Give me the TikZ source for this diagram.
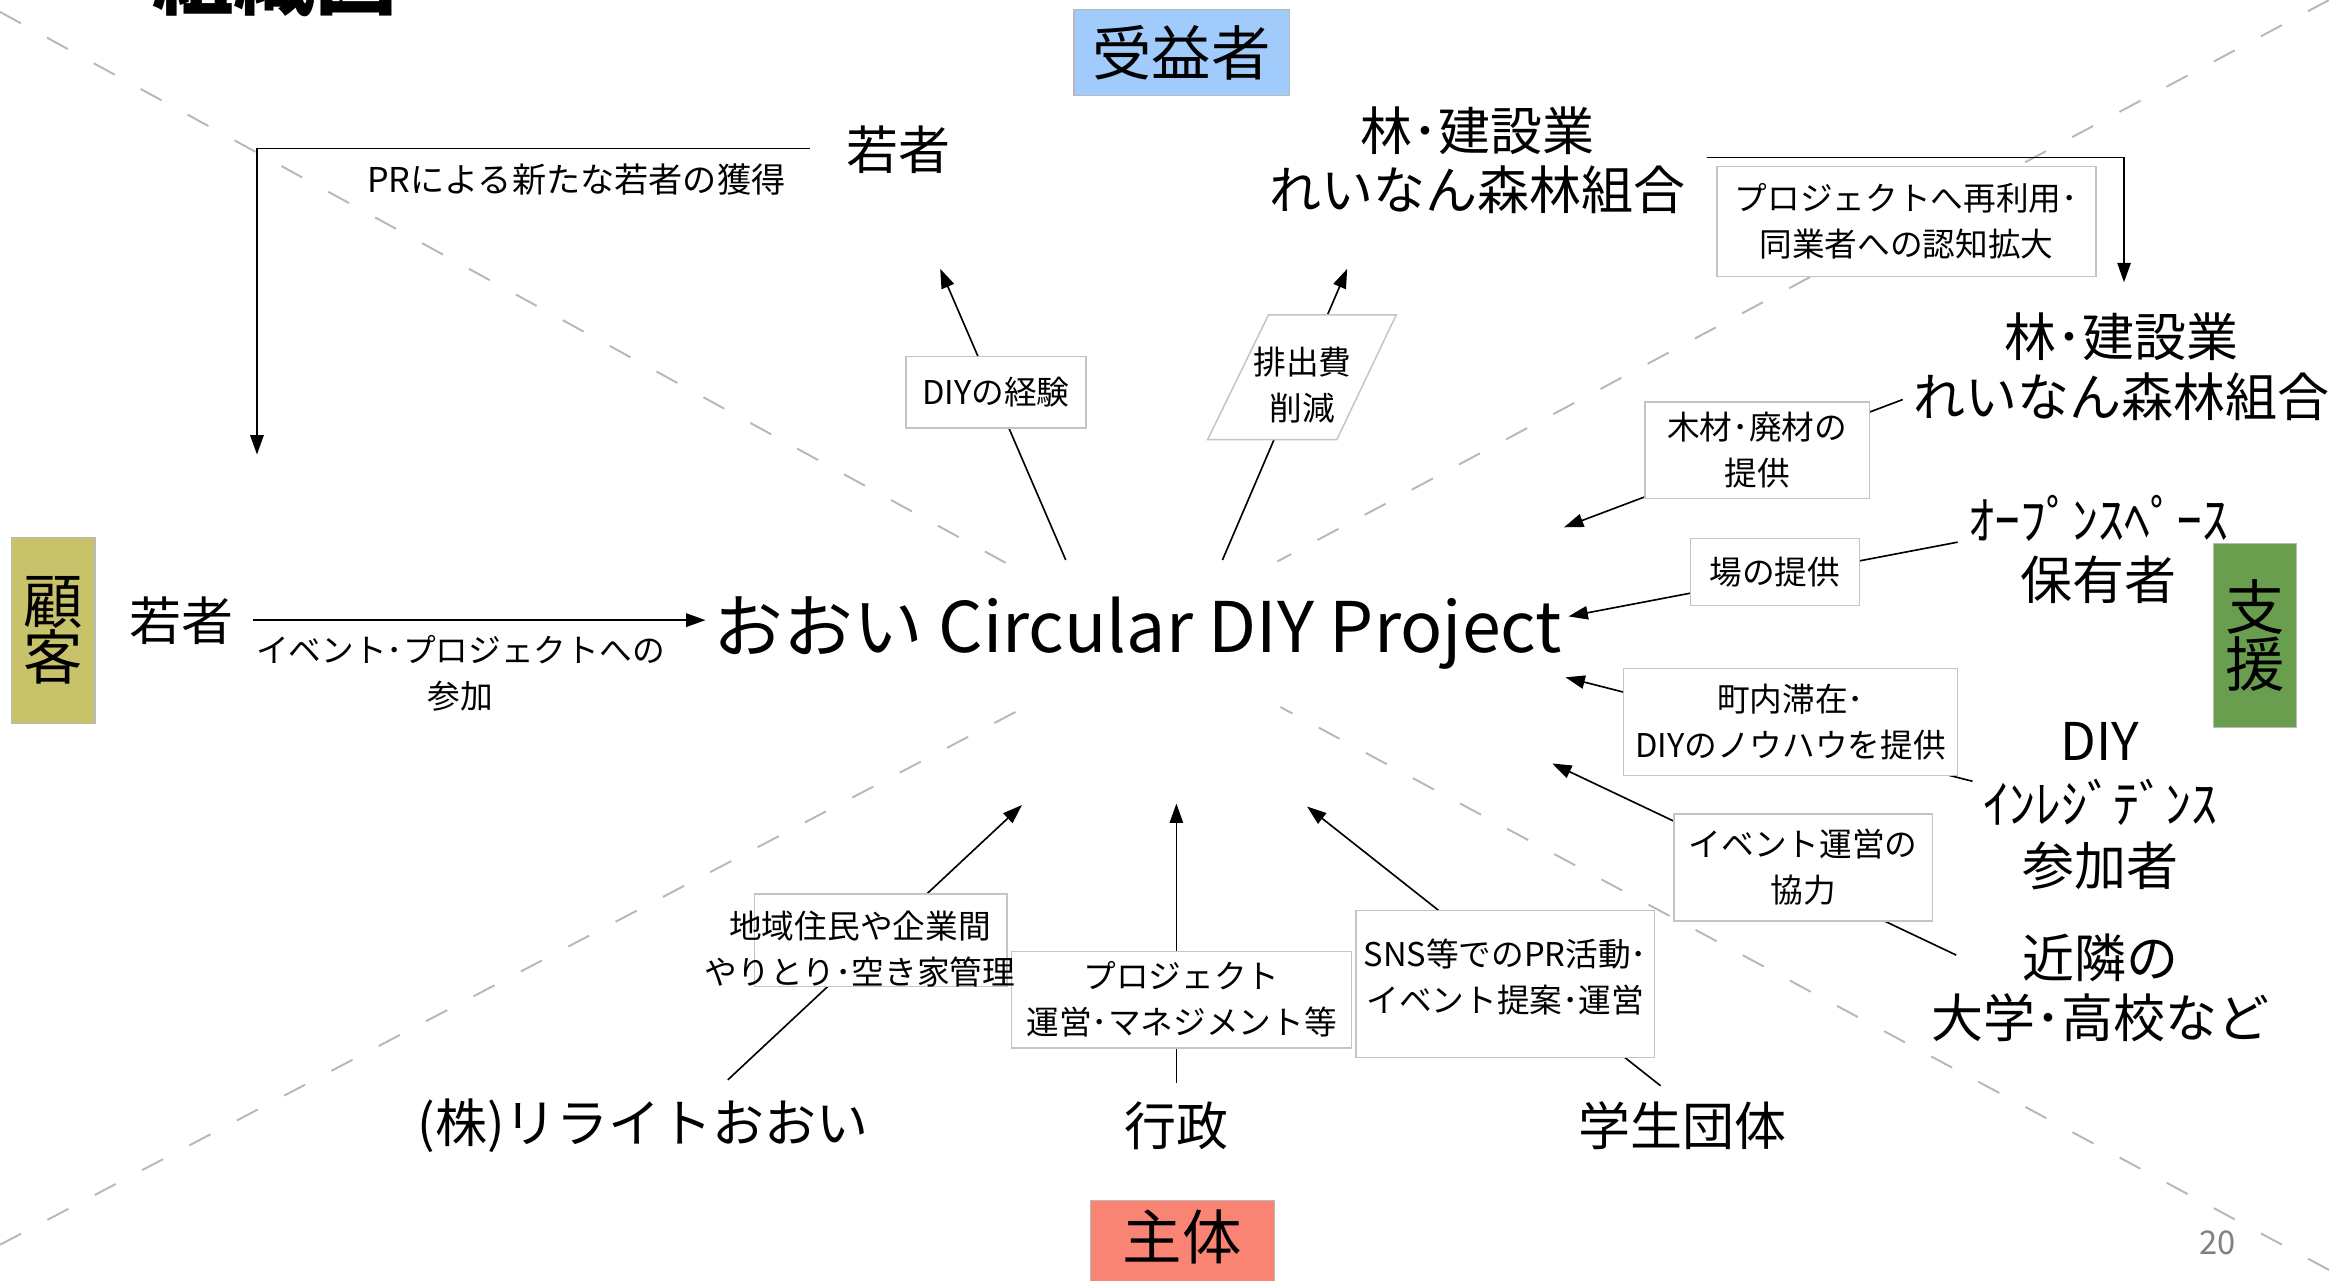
\documentclass[tikz,border=0pt]{standalone}
\usepackage{fontspec}
\setmainfont{Noto Sans CJK JP}
\usetikzlibrary{arrows.meta,backgrounds}
\definecolor{juekic}{HTML}{A0CBFA}
\definecolor{kokyakuc}{HTML}{C8C36A}
\definecolor{shienc}{HTML}{6A9E4F}
\definecolor{shutaic}{HTML}{FA8474}
\definecolor{boxline}{HTML}{C4C4C4}
\definecolor{dashc}{HTML}{B8B8B8}
\newcommand{\fsz}[2]{\fontsize{#1}{#2}\selectfont}
\tikzset{
  big/.style={font=\fsz{35}{40}, align=center, inner sep=0pt},
  small/.style={font=\fsz{22}{31}, align=center, inner sep=0pt},
  lbox/.style={draw=boxline, fill=white, line width=1pt, font=\fsz{22}{31}, align=center, inner sep=0pt},
  corner/.style={draw=gray!55, line width=0.8pt, font=\fsz{40}{38}, align=center, inner sep=0pt},
  conn/.style={line width=1.1pt, black},
  arr/.style={conn, -{Triangle[length=13pt,width=9pt]}},
  dashx/.style={dashc, line width=1.3pt, dash pattern=on 16pt off 20pt}
}
\begin{document}
\begin{tikzpicture}[x=1pt,y=-1pt]
\useasboundingbox (0,0) rectangle (1568,862);
\begin{scope}[on background layer]
  \fill[white] (0,0) rectangle (1568,862);
  \draw[dashx] (0,8) -- (690,386);
  \draw[dashx] (1568,0) -- (860,378);
  \draw[dashx] (0,838) -- (690,476);
  \draw[dashx] (1568,855) -- (862,476);
\end{scope}

% title (cut by the top edge, as in the reference)
\node[font=\fsz{55}{55}\bfseries, anchor=base, inner sep=0pt] (ttl) at (185,6) {組織図};

% corner category boxes
\node[corner, fill=juekic, minimum width=145pt, minimum height=58pt] (jueki) at (795.5,35.5) {受益者};
\node[corner, fill=kokyakuc, minimum width=56pt, minimum height=125pt] (kokyaku) at (36,424.5) {顧\\客};
\node[corner, fill=shienc, minimum width=56pt, minimum height=124pt] (shien) at (1518,428) {支\\援};
\node[corner, fill=shutaic, minimum width=124pt, minimum height=60pt] (shutai) at (796,838) {};
\node[font=\fsz{40}{40}, inner sep=0pt] (shutait) at (796,833) {主体};

% main title
\node[font=\fsz{47}{47}, anchor=base, inner sep=0pt] (main) at (766,439) {おおい Circular DIY Project};

% actors
\node[big] (wak1) at (605,101) {若者};
\node[big] (rin1) at (995,108) {林･建設業\\れいなん森林組合};
\node[big] (rin2) at (1428,247) {林･建設業\\れいなん森林組合};
\node[big] (open) at (1413,370) {ｵｰﾌﾟﾝｽﾍﾟｰｽ\\保有者};
\node[big, font=\fsz{35}{42}] (diyr) at (1414,543) {DIY\\ｲﾝﾚｼﾞﾃﾞﾝｽ\\参加者};
\node[big] (kinrin) at (1414,665) {近隣の\\大学･高校など};
\node[big] (gaku) at (1133,758) {学生団体};
\node[big] (gyo) at (792,758) {行政};
\node[big] (rew) at (433,758) {(株)リライトおおい};
\node[big] (wak2) at (122,418) {若者};

% free labels
\node[small, font=\fsz{23}{31}] (prl) at (388,121) {PRによる新たな若者の獲得};
\node[small] (sanka) at (310,453) {イベント･プロジェクトへの\\参加};

% boxed labels
\node[lbox, minimum width=121pt, minimum height=48pt] (diyk) at (670.5,264) {DIYの経験};
\draw[boxline, fill=white, line width=1pt] (854,212) -- (940,212) -- (900,296) -- (813,296) -- cycle;
\node[small] (hai) at (877,259) {排出費\\削減};
\node[lbox, minimum width=255pt, minimum height=74pt] (saiyo) at (1283.5,149) {プロジェクトへ再利用･\\同業者への認知拡大};
\node[lbox, minimum width=151pt, minimum height=65pt] (moku) at (1183,303) {木材･廃材の\\提供};
\node[lbox, minimum width=114pt, minimum height=45pt] (ba) at (1195,385) {場の提供};
\node[lbox, minimum width=225pt, minimum height=72pt] (chonai) at (1205.5,486) {町内滞在･\\DIYのノウハウを提供};
\node[lbox, minimum width=174pt, minimum height=72pt] (kyo) at (1214,584) {イベント運営の\\協力};
\node[lbox, minimum width=201pt, minimum height=99pt] (snsbox) at (1013.5,662.5) {};
\node[small] (sns) at (1013.5,657.5) {SNS等でのPR活動･\\イベント提案･運営};
\node[lbox, minimum width=229pt, minimum height=65pt] (pm) at (795.5,673) {プロジェクト\\運営･マネジメント等};
\node[lbox, minimum width=170pt, minimum height=62pt] (chiikibox) at (593,633) {};
\node[small] (chiiki) at (579,639) {地域住民や企業間\\やりとり･空き家管理};

% page number
\node[font=\fsz{22}{22}, text=gray, inner sep=0pt] (pg) at (1493,837) {20};

% connector end points
\coordinate (a1s) at (545,100);
\coordinate (a1e) at (173,306);
\coordinate (a2s) at (170,417.5);
\coordinate (a2e) at (475,417.5);
\coordinate (a3s) at (717.5,377);
\coordinate (a3e) at (633,181);
\coordinate (a4s) at (823,377);
\coordinate (a4e) at (907,181);
\coordinate (a5s) at (1149,106);
\coordinate (a5e) at (1430,190);
\coordinate (a6s) at (1281,269);
\coordinate (a6e) at (1053,355);
\coordinate (a7s) at (1318,365);
\coordinate (a7e) at (1056,415);
\coordinate (a8s) at (1328,526);
\coordinate (a8e) at (1054,456);
\coordinate (a9s) at (1317,643);
\coordinate (a9e) at (1045,514);
\coordinate (a10s) at (490,727);
\coordinate (a10e) at (688,542);
\coordinate (a11s) at (792,729);
\coordinate (a11e) at (792,541);
\coordinate (a12s) at (1118,731);
\coordinate (a12e) at (880,543);

\begin{scope}[on background layer]
  \draw[arr] (a1s) -| (a1e);
  \draw[arr] (a2s) -- (a2e);
  \draw[arr] (a3s) -- (a3e);
  \draw[arr] (a4s) -- (a4e);
  \draw[arr] (a5s) -| (a5e);
  \draw[arr] (a6s) -- (a6e);
  \draw[arr] (a7s) -- (a7e);
  \draw[arr] (a8s) -- (a8e);
  \draw[arr] (a9s) -- (a9e);
  \draw[arr] (a10s) -- (a10e);
  \draw[arr] (a11s) -- (a11e);
  \draw[arr] (a12s) -- (a12e);
\end{scope}
\end{tikzpicture}
\end{document}
